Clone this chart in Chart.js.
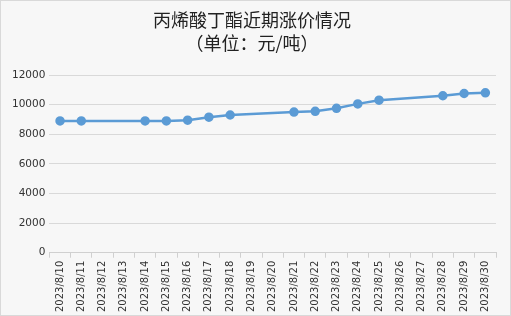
<!DOCTYPE html>
<html><head><meta charset="utf-8">
<script src="https://cdn.jsdelivr.net/npm/chart.js@4/dist/chart.umd.min.js"></script>
<style>
html,body{margin:0;padding:0;background:#f7f7f7;}
#wrap{position:absolute;left:0;top:0;width:509px;height:314px;border:1px solid #d9d9d9;background:#f7f7f7;}
</style></head>
<body><div id="wrap"><canvas id="c" width="509" height="314"></canvas></div>
<script>
const categories = ["2023/8/10","2023/8/11","2023/8/12","2023/8/13","2023/8/14","2023/8/15","2023/8/16","2023/8/17","2023/8/18","2023/8/19","2023/8/20","2023/8/21","2023/8/22","2023/8/23","2023/8/24","2023/8/25","2023/8/26","2023/8/27","2023/8/28","2023/8/29","2023/8/30"];
const prices = [8900,8900,null,null,8900,8900,8950,9150,9300,null,null,9500,9550,9750,10050,10300,null,null,10600,10750,10800];
const titleLines = ["丙烯酸丁酯近期涨价情况","（单位：元/吨）"];
const yTicks = {min:0,max:12000,step:2000};

new Chart(document.getElementById('c'), {
  type:'line',
  data:{labels:categories,datasets:[{data:prices,borderColor:'#5b9bd5',backgroundColor:'#5b9bd5',borderWidth:2.5,pointRadius:3.5,pointHoverRadius:3.5,pointBackgroundColor:'#5b9bd5',pointBorderColor:'#5b9bd5',spanGaps:true,tension:0}]},
  options:{
    responsive:false,animation:false,
    layout:{padding:{left:7,right:14,top:4,bottom:0}},
    plugins:{legend:{display:false},tooltip:{enabled:false},
      title:{display:true,text:titleLines,color:'#222',font:{family:'"Noto Sans CJK SC"',size:18,weight:'normal',lineHeight:1.25},padding:{top:4,bottom:21}}},
    scales:{
      x:{offset:true,grid:{offset:true,drawOnChartArea:false,drawTicks:true,tickLength:5,color:'#d0d0d0'},border:{color:'#d0d0d0'},
        ticks:{maxRotation:90,minRotation:90,autoSkip:false,color:'#333',font:{family:'"DejaVu Sans"',size:10},padding:3}},
      y:{min:yTicks.min,max:yTicks.max,ticks:{stepSize:yTicks.step,color:'#333',font:{family:'"DejaVu Sans"',size:10.5},padding:4,callback:v=>String(v)},
        grid:{color:'#d9d9d9',drawTicks:false},border:{display:false}}
    }
  }
});
</script></body></html>
